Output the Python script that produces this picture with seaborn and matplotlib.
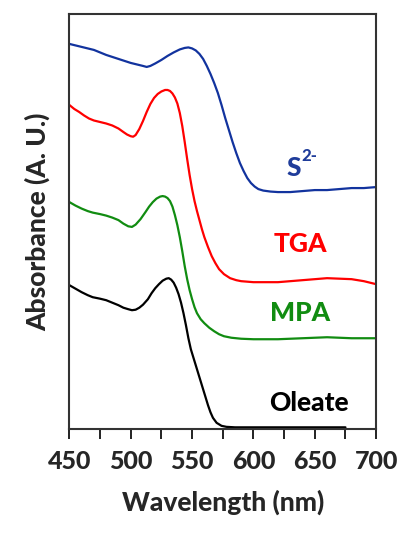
import pandas as pd
import matplotlib.pyplot as plt
import seaborn as sns

# -------------------------------
# Spectra (arbitrary offset units)
# -------------------------------
wl_s2 = [450, 455, 460, 465, 470, 475, 480, 485, 490, 495, 500, 505, 510, 513, 516,
         520, 525, 530, 535, 540, 544, 547, 550, 553, 556, 559, 562, 565, 568, 571,
         574, 577, 580, 583, 586, 589, 592, 595, 598, 601, 604, 608, 614, 620, 630,
         640, 650, 660, 670, 680, 690, 700]
abs_s2 = [385, 383.5, 382, 380.5, 379, 376.5, 374, 372, 370, 368, 366, 364.5, 363, 362, 363,
          365.5, 369, 373, 376.5, 379.5, 381, 381.5, 380.5, 378.5, 375, 370, 363, 355, 346, 336,
          324, 311, 299, 287, 276, 266, 258, 251, 246, 242.5, 240, 238.5, 237.5, 237, 237,
          238, 239, 239, 240, 241, 241, 242]

wl_tga = [450, 454, 458, 462, 466, 470, 475, 480, 485, 490, 494, 497, 500, 502, 504,
          507, 510, 513, 516, 519, 522, 525, 528, 530, 532, 534, 536, 538, 540, 542,
          544, 546, 548, 550, 552, 554, 556, 558, 560, 563, 566, 569, 572, 576, 581,
          586, 590, 600, 620, 640, 660, 680, 690, 700]
abs_tga = [324, 320, 317, 313.5, 310.5, 308.5, 307, 305.5, 303.5, 300.5, 297, 294.5, 292.8, 292.3, 294,
           300, 308, 317, 325, 331, 335, 337.5, 339, 339, 338, 335.5, 331.5, 325.5, 316, 303,
           287, 270, 254, 240, 228, 218, 209, 200, 192, 182, 173, 166, 160, 155, 151,
           149, 148, 147, 147, 149, 151, 150, 148, 145]

wl_mpa = [450, 455, 460, 465, 469, 475, 480, 485, 490, 494, 498, 501, 504, 508, 512,
          515, 518, 521, 524, 526, 528, 530, 532, 534, 536, 538, 540, 542, 544, 546,
          548, 550, 552, 554, 557, 560, 564, 568, 572, 576, 582, 590, 600, 620, 640,
          660, 680, 700]
abs_mpa = [227, 223.5, 220.5, 218, 216.5, 215, 213.5, 211.5, 209, 205.5, 202.8, 202.2, 204.5, 210, 217,
           222.5, 227, 230.5, 232.5, 233, 232.5, 231, 228, 222.5, 214, 204, 192, 178, 163, 150,
           139, 130, 122, 116, 110, 106, 101.5, 98, 95, 93, 91.5, 90.5, 90, 90, 91,
           92, 91, 91]

wl_ole = [450, 455, 460, 465, 469, 475, 480, 485, 490, 494, 498, 501, 504, 507, 510,
          514, 517, 520, 523, 526, 529, 531, 533, 535, 537, 539, 541, 543, 545, 547,
          549, 551, 553, 555, 557, 559, 561, 563, 565, 567, 570, 574, 578, 585, 600,
          620, 640, 660, 675]
abs_ole = [144, 140.5, 137, 134, 132, 130.5, 129, 126.5, 124, 121.5, 120, 119, 119.5, 121.5, 124.5,
           130, 136, 141, 145, 148.5, 150.5, 151, 149.5, 146.5, 141.5, 135, 126.5, 116, 104, 91,
           80, 72, 64, 56, 48, 40, 32, 24, 17, 11.5, 6.5, 3.5, 2.5, 2, 2,
           2, 2, 2, 2]

names = ["S2-", "TGA", "MPA", "Oleate"]
colors = {"S2-": "#12339e", "TGA": "#ff0000", "MPA": "#118c11", "Oleate": "#000000"}

df = pd.concat([
    pd.DataFrame({"wl": wl_s2, "abs": abs_s2, "ligand": "S2-"}),
    pd.DataFrame({"wl": wl_tga, "abs": abs_tga, "ligand": "TGA"}),
    pd.DataFrame({"wl": wl_mpa, "abs": abs_mpa, "ligand": "MPA"}),
    pd.DataFrame({"wl": wl_ole, "abs": abs_ole, "ligand": "Oleate"}),
])

# -------------------------------
# Plot
# -------------------------------
sns.set_style("white")
plt.rcParams["font.family"] = ["Lato", "DejaVu Sans"]
plt.rcParams["font.weight"] = "black"

fig, ax = plt.subplots(figsize=(4.01, 5.34), dpi=100)
fig.subplots_adjust(left=0.173, right=0.938, bottom=0.196, top=0.974)

sns.lineplot(data=df, x="wl", y="abs", hue="ligand", palette=colors,
             hue_order=names, sort=False, linewidth=1.6, legend=False, ax=ax)

ax.set_xlim(450, 700)
ax.set_ylim(0, 415)
ax.set_xticks(range(450, 701, 50))
ax.set_xticks(range(475, 700, 50), minor=True)
ax.set_yticks([])
ax.tick_params(axis="x", which="both", direction="out", length=7, width=1.4,
               bottom=True, color="#222222", labelsize=18, pad=8)
for s in ax.spines.values():
    s.set_linewidth(1.5)
    s.set_color("#333333")

w = "black"
ax.set_xlabel("Wavelength (nm)", fontsize=19, fontweight=w, labelpad=12)
ax.set_ylabel("Absorbance (A. U.)", fontsize=19, fontweight=w, labelpad=14)

# curve labels
ax.text(633, 261, "S", color="#1f3c9a", fontsize=19, fontweight=w,
        ha="center", va="center")
ax.text(639, 273, "2-", color="#1f3c9a", fontsize=12, fontweight=w,
        ha="left", va="center")
ax.text(638, 185, "TGA", color=colors["TGA"], fontsize=19, fontweight=w,
        ha="center", va="center")
ax.text(638, 116.5, "MPA", color=colors["MPA"], fontsize=19, fontweight=w,
        ha="center", va="center")
ax.text(645.5, 26.5, "Oleate", color="black", fontsize=19, fontweight=w,
        ha="center", va="center")

plt.savefig("out.png", dpi=100)
plt.close()
